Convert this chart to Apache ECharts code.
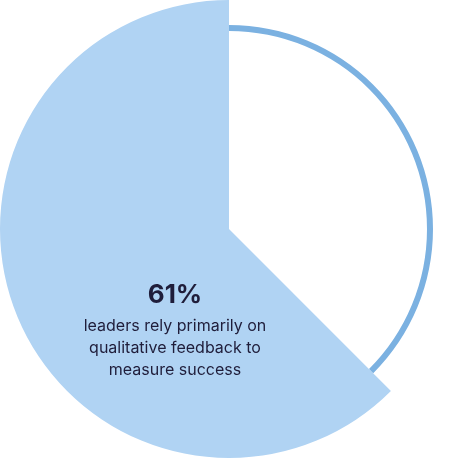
<!DOCTYPE html>
<html><head><meta charset="utf-8">
<script src="https://cdn.jsdelivr.net/npm/echarts@6/dist/echarts.min.js"></script>
<style>html,body{margin:0;padding:0;background:#fff}#c{width:459px;height:459px}</style>
</head><body><div id="c"></div>
<script>
const categories = ['Qualitative feedback', 'Other'];
const values = [62.5, 37.5];
const headline = '61%';
const captionLines = ['leaders rely primarily on', 'qualitative feedback to', 'measure success'];

const chart = echarts.init(document.getElementById('c'), null, {renderer: 'canvas'});
const fillColor = '#B0D3F3';
const ringColor = '#7BB1E1';
const textColor = '#1F1D3A';
chart.setOption({
  animation: false,
  series: [
    {
      type: 'pie', center: [229, 229], radius: [0, 229], startAngle: 90, clockwise: false,
      label: {show: false}, labelLine: {show: false}, silent: true, z: 1,
      data: categories.map((c, i) => ({name: c, value: values[i],
        itemStyle: {color: i === 0 ? fillColor : 'rgba(0,0,0,0)'}}))
    },
    {
      type: 'pie', center: [229, 229], radius: [198, 204], startAngle: 90, clockwise: false,
      label: {show: false}, labelLine: {show: false}, silent: true, z: 1,
      data: categories.map((c, i) => ({name: c, value: values[i],
        itemStyle: {color: i === 1 ? ringColor : 'rgba(0,0,0,0)'}}))
    }
  ],
  graphic: {
    elements: [
      {type: 'text', x: 175, y: 295, z: 100, style: {text: headline, fill: textColor,
        font: 'bold 26px Inter, sans-serif', align: 'center', verticalAlign: 'middle'}},
      ...captionLines.map((t, i) => ({type: 'text', x: 175, y: 326 + i * 22, z: 100,
        style: {text: t, fill: textColor, font: '16px Inter, sans-serif',
          align: 'center', verticalAlign: 'middle'}}))
    ]
  }
});
</script></body></html>
